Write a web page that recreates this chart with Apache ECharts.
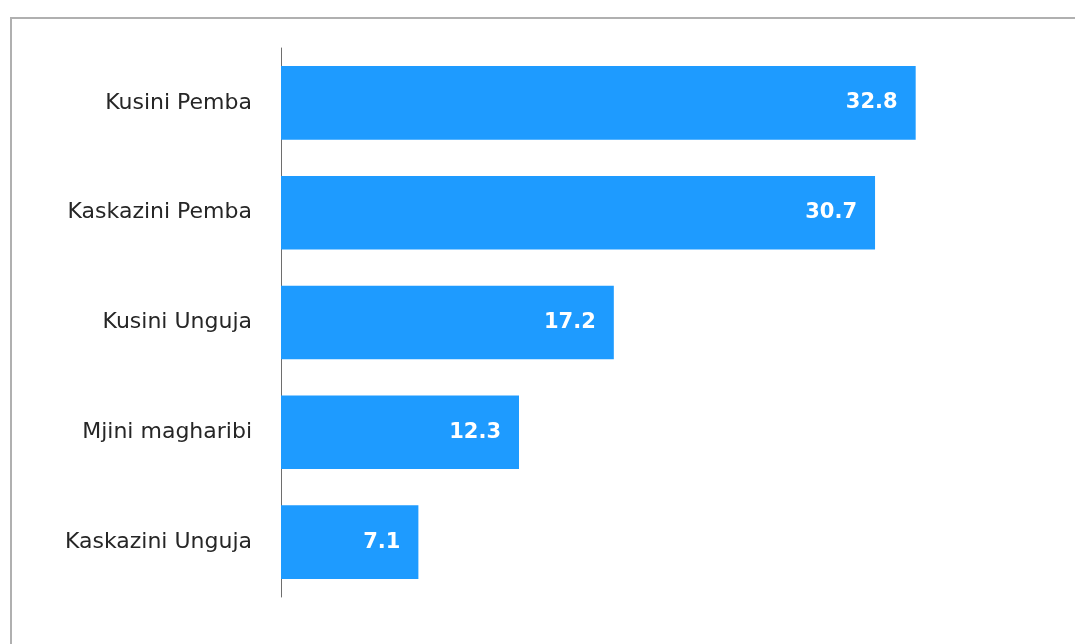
<!DOCTYPE html>
<html>
<head>
<meta charset="utf-8">
<script src="https://cdn.jsdelivr.net/npm/echarts@6/dist/echarts.min.js"></script>
<style>
html,body{margin:0;padding:0;background:#fff;}
#frame{position:absolute;left:10px;top:17px;width:1080px;height:640px;border:2px solid #b0b0b0;box-sizing:border-box;}
#chart{position:absolute;left:0;top:0;width:1075px;height:644px;}
</style>
</head>
<body>
<div id="frame"></div>
<div id="chart"></div>
<script>
const categories = ["Kusini Pemba", "Kaskazini Pemba", "Kusini Unguja", "Mjini magharibi", "Kaskazini Unguja"];
const values = [32.8, 30.7, 17.2, 12.3, 7.1];

const chart = echarts.init(document.getElementById('chart'), null, {renderer: 'canvas'});
chart.setOption({
  backgroundColor: 'transparent',
  animation: false,
  grid: {left: 281, top: 48, height: 549, width: 774, containLabel: false},
  xAxis: {type: 'value', min: 0, max: 40, show: false},
  yAxis: {
    type: 'category',
    data: categories,
    inverse: true,
    axisLine: {show: true, lineStyle: {color: '#6e6e6e', width: 1}},
    axisTick: {show: false},
    axisLabel: {color: '#262626', fontFamily: 'DejaVu Sans', fontSize: 22, margin: 29}
  },
  series: [{
    type: 'bar',
    data: values,
    barCategoryGap: '33%',
    itemStyle: {color: '#1e9bff'},
    label: {
      show: true,
      position: 'insideRight',
      distance: 18,
      color: '#fff',
      fontWeight: 'bold',
      fontFamily: 'DejaVu Sans',
      fontSize: 21,
      formatter: p => p.value.toFixed(1)
    }
  }]
});
</script>
</body>
</html>
